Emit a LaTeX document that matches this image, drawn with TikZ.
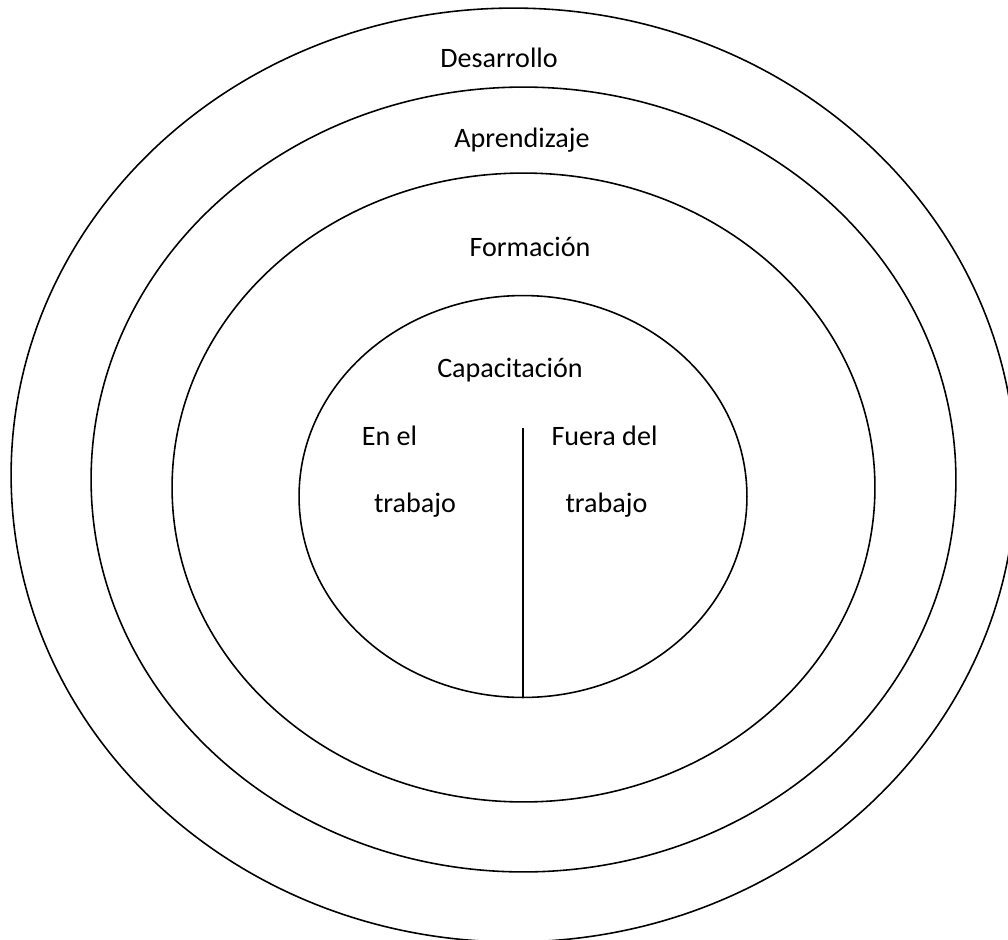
\documentclass[tikz,border=0pt]{standalone}
\usepackage{fontspec}
\setmainfont{Carlito}
\usetikzlibrary{shapes.geometric}
\tikzset{
  ring/.style={
    ellipse, draw, line width=0.9pt, inner sep=0pt,
    #1
  },
  lbl/.style={
    anchor=base, inner sep=0pt,
    font=\fontsize{16}{19}\selectfont
  }
}

\begin{document}
\begin{tikzpicture}[x=0.02cm, y=-0.02cm]
        \useasboundingbox (0,0) rectangle (1008,940);
        \clip (0,0) rectangle (1008,940);

        % the four rings
        \node[ring={minimum width=20.10cm, minimum height=18.68cm}] (desar) at (513.5, 475.0) {};
        \node[ring={minimum width=17.30cm, minimum height=15.70cm}] (apren) at (523.5, 479.5) {};
        \node[ring={minimum width=14.06cm, minimum height=12.58cm}] (forma) at (523.5, 487.5) {};
        \node[ring={minimum width=8.96cm,  minimum height=8.04cm}]  (capac) at (523.0, 496.5) {};

        % labels
        \begin{scope}[every node/.style={lbl}]
            \node (tDesar) at (499, 67) {Desarrollo};
            \node (tApren) at (522, 147) {Aprendizaje};
            \node (tForma) at (530, 256) {Formación};
            \node (tCapac) at (510, 377) {Capacitación};

            \node (tEnel)  at (389.5, 445) {En el};
            \node (tTrabL) at (415, 512) {trabajo};
            \node (tFuera) at (604.5, 445) {Fuera del};
            \node (tTrabR) at (606.5, 512) {trabajo};
        \end{scope}

        % divider
        \coordinate (divtop) at (523, 428);
        \draw[line width=0.9pt] (divtop) -- (capac.south);
    \end{tikzpicture}
\end{document}
